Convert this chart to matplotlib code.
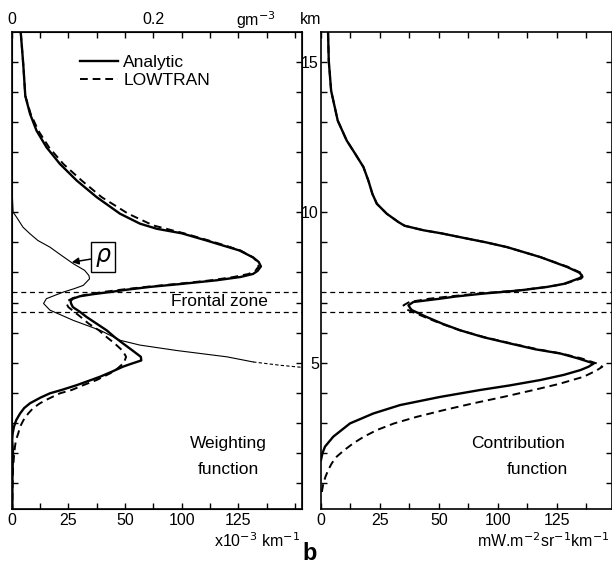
import numpy as np
import matplotlib
matplotlib.use("Agg")
import matplotlib.pyplot as plt
from matplotlib.lines import Line2D

plt.rcParams['font.family'] = ['Liberation Sans', 'DejaVu Sans']

# ---- data ----
# x values are in plotted axis units (one minor tick = 12.5)
# weighting function, analytic
wf_an_z = [15.96, 14.91, 13.86, 13.26, 12.7, 12.15, 11.6, 11.05, 10.5, 9.95, 9.62, 9.45,
           9.3, 9.06, 8.9, 8.73, 8.5, 8.35, 8.2, 8.05, 7.95, 7.85, 7.74, 7.62, 7.52, 7.43,
           7.35, 7.28, 7.21, 7.13, 7.06, 6.97, 6.85, 6.7, 6.52, 6.3, 6.08, 5.85, 5.64,
           5.4, 5.2, 5.08, 4.95, 4.87, 4.7, 4.54, 4.43, 4.26, 4.1, 3.99, 3.85, 3.66,
           3.5, 3.32, 3.1, 2.88, 2.65, 2.44, 2.0, 1.5, 1.0, 0.5, 0.15]
wf_an_x = [4.0, 5.1, 6.0, 8.1, 11.0, 15.4, 21.3, 28.7, 37.5, 47.8, 56.6, 64.0, 75.0,
           86.0, 93.0, 100.5, 106.5, 109.0, 110.0, 108.5, 106.5, 101.0, 90.4, 75.0, 61.0,
           51.0, 43.4, 36.0, 30.1, 27.0, 26.0, 26.2, 27.0, 30.0, 33.1, 37.5, 41.9, 45.5,
           49.2, 53.5, 57.0, 57.2, 52.0, 49.0, 44.0, 39.0, 35.0, 28.7, 22.0, 16.9, 12.8,
           8.1, 5.5, 3.7, 2.0, 1.0, 0.4, 0.2, 0.6, 0.4, 0.3, 0.3, 0.3]

# weighting function, LOWTRAN
wf_lt_z = [15.96, 14.91, 13.86, 13.26, 12.7, 12.15, 11.6, 11.05, 10.5, 9.95, 9.56, 9.3,
           9.06, 8.9, 8.73, 8.5, 8.35, 8.2, 8.05, 7.95, 7.85, 7.74, 7.62, 7.52, 7.43,
           7.35, 7.25, 7.15, 7.05, 6.95, 6.85, 6.7, 6.52, 6.3, 6.08, 5.85, 5.64, 5.4,
           5.2, 5.0, 4.8, 4.65, 4.43, 4.26, 4.1, 3.99, 3.8, 3.66, 3.5, 3.32, 3.1, 2.88,
           2.66, 2.44, 2.2, 1.9, 1.5, 1.0, 0.5, 0.15]
wf_lt_x = [4.0, 5.1, 6.0, 8.4, 11.8, 16.5, 22.8, 30.9, 39.7, 51.4, 62.5, 76.0,
           87.0, 94.0, 101.0, 106.5, 108.5, 109.0, 107.5, 104.5, 98.0, 88.0, 73.0, 59.0,
           48.5, 40.0, 32.0, 27.0, 24.5, 24.3, 25.0, 27.5, 30.5, 34.0, 38.5, 42.0, 45.5,
           49.0, 50.5, 49.5, 46.5, 43.4, 37.5, 31.6, 26.5, 21.3, 16.0, 12.5, 9.5, 7.3,
           5.2, 3.7, 2.9, 1.9, 1.4, 1.0, 0.6, 0.4, 0.3, 0.2]

# water content rho (g m-3), solid part then dashed continuation
rho_z = [11.5, 10.5, 10.0, 9.83, 9.5, 9.28, 9.06, 8.84, 8.57, 8.29, 8.07, 7.9,
         7.79, 7.57, 7.46, 7.35, 7.13, 6.97, 6.75, 6.41, 6.08, 5.75, 5.59, 5.41, 5.2,
         5.03]
rho_g = [0.001, 0.001, 0.002, 0.007, 0.016, 0.026, 0.037, 0.054, 0.070, 0.087,
         0.103, 0.109, 0.110, 0.101, 0.088, 0.073, 0.049, 0.045, 0.054, 0.087, 0.125,
         0.153, 0.181, 0.233, 0.304, 0.341]
rho_tail_z = [5.03, 4.92, 4.85]
rho_tail_g = [0.341, 0.379, 0.41]

# contribution function, analytic
cf_an_z = [15.96, 15.02, 14.03, 13.04, 12.38, 11.94, 11.5, 11.05, 10.61, 10.28, 9.95,
           9.67, 9.55, 9.4, 9.3, 9.17, 9.0, 8.84, 8.51, 8.18, 8.0, 7.9, 7.82, 7.74,
           7.62, 7.52, 7.4, 7.3, 7.2, 7.13, 7.02, 6.91, 6.8, 6.75, 6.52, 6.3, 6.08,
           5.85, 5.64, 5.45, 5.31, 5.15, 4.98, 4.87, 4.76, 4.6, 4.43, 4.25, 4.1, 3.87,
           3.6, 3.32, 2.99, 2.55, 2.22, 2.0, 1.78]
cf_an_x = [3.0, 3.3, 4.3, 7.1, 10.9, 14.5, 18.0, 20.1, 21.8, 23.7, 27.9,
           32.9, 35.5, 43.5, 51.0, 59.1, 70.0, 79.0, 93.1, 104.5, 109.5, 110.8, 110.0,
           107.3, 103.0, 96.0, 84.0, 69.0, 57.0, 50.6, 39.2, 37.1, 38.0, 38.6, 44.9,
           51.5, 59.1, 69.0, 80.4, 91.0, 101.6, 109.0, 115.8, 113.5, 110.1, 103.0, 93.1,
           80.0, 67.6, 50.6, 33.6, 22.2, 12.3, 5.2, 1.7, 0.6, 0.0]

# contribution function, LOWTRAN
cf_lt_z = [15.96, 15.02, 14.03, 13.04, 12.38, 11.94, 11.5, 11.05, 10.61, 10.28, 9.95,
           9.67, 9.55, 9.4, 9.3, 9.17, 9.0, 8.84, 8.51, 8.18, 8.0, 7.9, 7.8, 7.74,
           7.62, 7.52, 7.4, 7.3, 7.2, 7.13, 7.02, 6.91, 6.8, 6.75, 6.52, 6.3, 6.08,
           5.85, 5.64, 5.45, 5.31, 5.15, 4.98, 4.87, 4.75, 4.54, 4.3, 4.1, 3.88, 3.66,
           3.43, 3.21, 2.99, 2.77, 2.55, 2.33, 2.1, 1.89, 1.67, 1.45, 1.22, 1.0, 0.78,
           0.56]
cf_lt_x = [3.0, 3.3, 4.3, 7.1, 10.9, 14.5, 18.0, 20.1, 21.8, 23.7, 27.9,
           32.9, 35.5, 43.5, 51.0, 59.1, 70.0, 79.0, 93.1, 105.0, 110.0, 111.5, 110.5,
           108.0, 103.5, 96.0, 83.0, 67.0, 54.0, 46.0, 37.5, 35.0, 36.0, 37.0, 44.0,
           51.0, 59.0, 69.5, 81.0, 92.0, 102.0, 110.5, 117.0, 119.4, 117.0, 111.5,
           101.0, 90.3, 78.0, 64.8, 52.0, 40.7, 31.0, 23.7, 18.2, 13.7, 9.8, 6.7, 4.6,
           3.1, 1.9, 1.0, 0.5, 0.0]

front_top, front_bot = 7.35, 6.70
xtick_labels = ['0', '25', '50', '100', '125']
km_ticks = [5, 10, 15]

# ---- figure ----
W, H = 612, 563
fig = plt.figure(figsize=(W / 100, H / 100), dpi=100)
bot, top = 509, 32.3
ax1 = fig.add_axes([11.7 / W, 1 - bot / H, 290 / W, (bot - top) / H])
ax2 = fig.add_axes([321 / W, 1 - bot / H, 290.5 / W, (bot - top) / H])

lw_thick = 1.7
dash = (0, (4, 2.5))
ax1.plot(wf_an_x, wf_an_z, 'k-', lw=lw_thick)
ax1.plot(wf_lt_x, wf_lt_z, 'k', ls=dash, lw=1.4)
ax2.plot(cf_an_x, cf_an_z, 'k-', lw=lw_thick)
ax2.plot(cf_lt_x, cf_lt_z, 'k', ls=dash, lw=1.4)

axr = ax1.twiny()
axr.plot(rho_g, rho_z, 'k-', lw=0.8)
axr.plot(rho_tail_g, rho_tail_z, 'k', ls=(0, (3, 2)), lw=0.8)

for ax in (ax1, ax2):
    ax.axhline(front_top, color='k', ls=(0, (4, 3)), lw=0.9)
    ax.axhline(front_bot, color='k', ls=(0, (4, 3)), lw=0.9)
    ax.set_ylim(0.15, 15.97)
    for s in ax.spines.values():
        s.set_linewidth(1.2)

ax1.set_xlim(0, 128)
ax2.set_xlim(0, 123.3)
axr.set_xlim(0, 128 * 0.2 / 62.5)
axr.set_ylim(0.15, 15.97)

tick_kw = dict(direction='in', length=4, width=1.0, labelsize=11.5)
for ax, xmax in ((ax1, 128), (ax2, 123.3)):
    pos = np.arange(0, xmax, 12.5)
    ax.set_xticks(pos)
    labs = [''] * len(pos)
    for i, t in enumerate(xtick_labels):
        labs[2 * i] = t
    ax.set_xticklabels(labs)
    ax.set_yticks(np.arange(1, 16))
    ax.tick_params(axis='x', bottom=True, top=(ax is ax2), pad=3, **tick_kw)
    ax.tick_params(axis='y', left=True, right=True, **tick_kw)

ax1.set_yticklabels([])
ax2.set_yticklabels([str(k) if k in km_ticks else '' for k in range(1, 16)])
ax2.tick_params(axis='y', pad=1.5)
ax2.tick_params(axis='x', labeltop=False)

rpos = np.arange(0, 0.4096, 0.04)
axr.set_xticks(rpos)
axr.set_xticklabels(['0' if i == 0 else ('0.2' if i == 5 else '') for i in range(len(rpos))])
axr.tick_params(axis='x', top=True, pad=4, **tick_kw)

# legend
handles = [Line2D([], [], color='k', lw=lw_thick),
           Line2D([], [], color='k', ls=dash, lw=1.4)]
ax1.legend(handles, ['Analytic', 'LOWTRAN'], loc='upper left',
           bbox_to_anchor=(0.235, 0.953), frameon=False, fontsize=12.5,
           handlelength=2.2, handletextpad=0.3, labelspacing=0.15,
           borderpad=0, borderaxespad=0)

ax1.annotate(r'$\rho$', xy=(26.5, 8.34), xytext=(40.3, 8.51), fontsize=17,
             ha='center', va='center',
             bbox=dict(boxstyle='square,pad=0.15', fc='white', ec='k', lw=1.0),
             arrowprops=dict(arrowstyle='-|>', color='k', lw=1.1,
                             mutation_scale=10, shrinkA=0, shrinkB=0))

ax1.text(91.8, 7.02, 'Frontal zone', fontsize=12.5, ha='center', va='center')
ax1.text(95.5, 2.31, 'Weighting', fontsize=12.5, ha='center', va='center')
ax1.text(95.5, 1.45, 'function', fontsize=12.5, ha='center', va='center')
ax2.text(83.5, 2.31, 'Contribution', fontsize=12.5, ha='center', va='center')
ax2.text(91.7, 1.45, 'function', fontsize=12.5, ha='center', va='center')

fig.text(256 / W, 1 - 20 / H, r'gm$^{-3}$', fontsize=11.5, ha='center', va='center')
fig.text(311 / W, 1 - 20 / H, 'km', fontsize=11.5, ha='center', va='center')
fig.text(300 / W, 1 - 541 / H, r'x10$^{-3}$ km$^{-1}$', fontsize=11.5,
         ha='right', va='center')
fig.text(477 / W, 1 - 541 / H, r'mW.m$^{-2}$sr$^{-1}$km$^{-1}$', fontsize=11.5,
         ha='left', va='center')
fig.text(310 / W, 1 - 553 / H, 'b', fontsize=17, fontweight='bold',
         ha='center', va='center')

fig.savefig('out.png', dpi=100)
